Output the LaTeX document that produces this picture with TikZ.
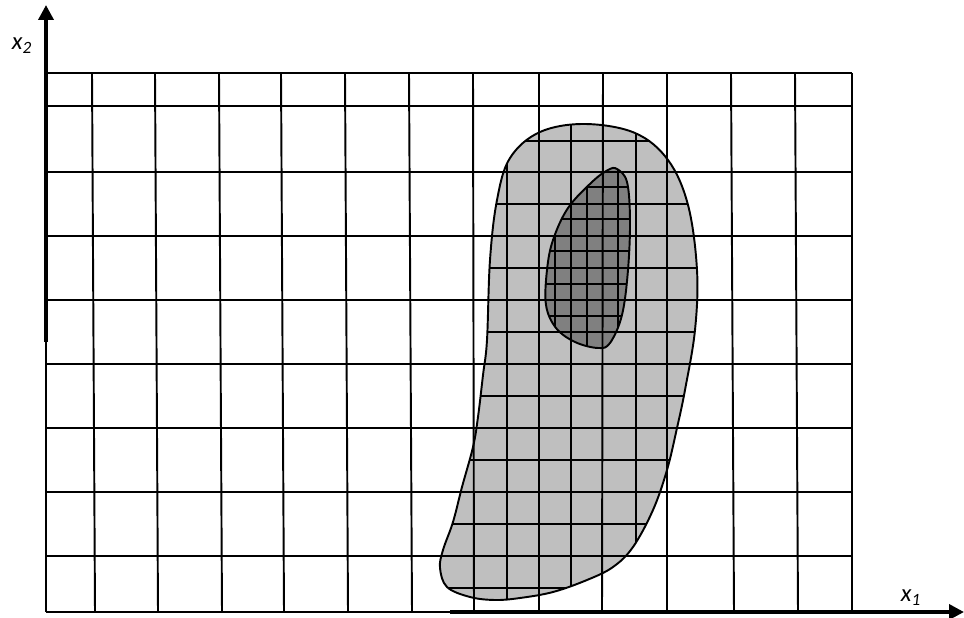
\documentclass[tikz,border=0pt]{standalone}
\usepackage{fontspec}
\setmainfont{Carlito}
\usepackage{tikz}
\usetikzlibrary{arrows.meta}

\begin{document}
\begin{tikzpicture}[x=0.02cm,y=-0.02cm,
    coarse/.style={line width=1.1pt},
    fine/.style={line width=0.8pt},
    rim/.style={line width=1.1pt},
    axis/.style={line width=2pt,-{Triangle[length=8.5pt,width=8.5pt]}},
    lab/.style={font=\fontsize{14}{16}\selectfont\itshape}]
  \useasboundingbox (0,0) rectangle (964,618);
  % regions
  \def\outer{plot[smooth cycle,tension=0.6] coordinates {(487,340) (490,260) (497,200) (510,158) (540,132) (585,124) (635,133) (668,160) (688,205) (697,270) (695,330) (685,390) (677,428) (667,470) (653,510) (633,547) (613,567) (587,580) (553,592) (520,598) (495,600) (470,597) (447,587) (440,568) (443,550) (453,522) (462,487) (473,447) (478,417) (483,375)}}
  \def\inner{plot[smooth cycle,tension=0.6] coordinates {(617,169) (627,182) (630,220) (628,270) (622,315) (610,343) (598,348) (575,342) (556,328) (546,305) (547,270) (553,240) (568,208) (592,182) (608,170)}}
  \fill[black!25] \outer;
  \fill[black!50] \inner;
  \begin{scope}
    \clip \outer;
    \foreach \y in {141,204,268,332,396,460,524,588} \draw[fine] (430,\y) -- (710,\y);
    \foreach \x in {507,571,636} \draw[fine] (\x,110) -- (\x,612);
  \end{scope}
  \begin{scope}
    \clip \inner;
    \foreach \y in {187,219,251,284,316} \draw[fine] (540,\y) -- (640,\y);
    \foreach \x in {555,587,618} \draw[fine] (\x,160) -- (\x,360);
  \end{scope}
  \draw[rim] \outer;
  \draw[rim] \inner;
  % coarse grid
  \foreach \y in {73,106,172,236,300,364,428,492,556,612} \draw[coarse] (46,\y) -- (852,\y);
  \foreach \a/\b in {92/95,155/158,219/222,281/284,345/348,409/412,473/474,539/539,603/602,667/667,731/734,795/798,852/852}
    \draw[coarse] (\a,73) -- (\b,612);
  \draw[coarse] (46,73) -- (46,612);
  % axes
  \coordinate (yfoot) at (46,342);
  \coordinate (ytip) at (46,5);
  \coordinate (xfoot) at (450,612);
  \coordinate (xtip) at (964,612);
  \draw[axis] (yfoot) -- (ytip);
  \draw[axis] (xfoot) -- (xtip);
  \node[lab] (x2lab) at (22,46) {x\textsubscript{2}};
  \node[lab] (x1lab) at (911,598) {x\textsubscript{1}};
\end{tikzpicture}
\end{document}
